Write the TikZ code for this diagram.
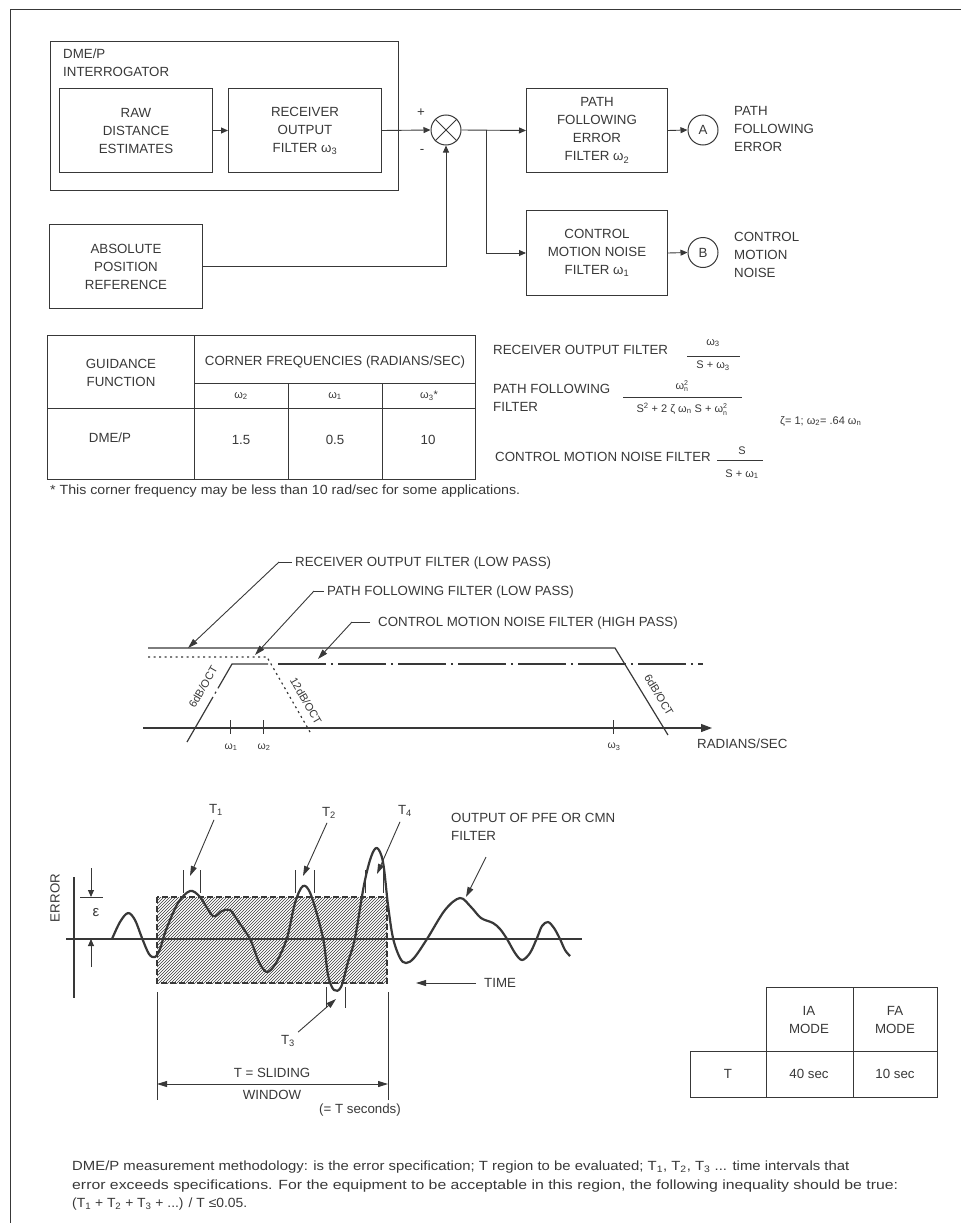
\documentclass[tikz,border=0pt]{standalone}
\usepackage{fontspec}
\setmainfont{Liberation Sans}
\usetikzlibrary{arrows.meta,patterns,calc}
\definecolor{ink}{gray}{0.22}
\newcommand{\sbs}[1]{\textsubscript{#1}}
\newcommand{\sps}[1]{\textsuperscript{#1}}
\newcommand{\tinyf}{\fontsize{7}{7}\selectfont}
\newcommand{\wsq}[1]{${\mbox{ω}}_{\mbox{\tinyf #1}}^{\mbox{\tinyf 2}}$}
\begin{document}
\begin{tikzpicture}[x=1pt,y=-1pt,
  every node/.style={font=\fontsize{13.3}{18}\selectfont, text=ink, inner sep=0pt},
  blk/.style={draw=ink, line width=1pt, align=center, anchor=north west},
  sig/.style={draw=ink, line width=0.9pt},
  arr/.style={sig, -{Triangle[length=7pt,width=6pt]}},
  ldr/.style={draw=ink, line width=0.9pt, -{Triangle[length=10pt,width=6pt]}},
  junc/.style={circle, draw=ink, line width=1pt, minimum size=30pt},
  thin/.style={draw=ink, line width=0.9pt},
  lbl/.style={align=left, anchor=west},
  small/.style={font=\fontsize{11}{13}\selectfont},
  tiny/.style={font=\fontsize{10.5}{12}\selectfont},
  curve/.style={draw=ink, line width=1.2pt},
]
\useasboundingbox (0,0) rectangle (961,1223);
\draw[ink, line width=1pt] (10,1223) -- (10,10) -- (961,10);

% ---------------- block diagram ----------------
\node[blk, minimum width=348pt, minimum height=149pt] (interr) at (50,41) {};
\node[lbl, anchor=north west] (interrlbl) at (63,49) {DME/P\\INTERROGATOR};
\node[blk, minimum width=153pt, minimum height=84pt] (raw) at (59,88) {RAW\\DISTANCE\\ESTIMATES};
\node[blk, minimum width=153pt, minimum height=84pt] (rof) at (228,88) {RECEIVER\\OUTPUT\\FILTER ω\sbs{3}};
\node[junc] (sum) at (446,130) {};
\draw[thin] (sum.north west) -- (sum.south east) (sum.north east) -- (sum.south west);
\node (plus) at (421,113) {+};
\node (minus) at (422,151) {-};
\node[blk, minimum width=153pt, minimum height=84pt] (abs) at (49,224) {ABSOLUTE\\POSITION\\REFERENCE};
\node[blk, minimum width=141pt, minimum height=84pt] (pfe) at (526,88) {PATH\\FOLLOWING\\ERROR\\FILTER ω\sbs{2}};
\node[blk, minimum width=141pt, minimum height=85pt] (cmn) at (526,210) {CONTROL\\MOTION NOISE\\FILTER ω\sbs{1}};
\node[junc] (A) at (703,130) {A};
\node[junc] (B) at (703,252.5) {B};
\node[lbl] (Alab) at (734,129) {PATH\\FOLLOWING\\ERROR};
\node[lbl] (Blab) at (734,255) {CONTROL\\MOTION\\NOISE};
\coordinate (br) at (486,130);
\draw[arr] (raw) -- (rof);
\draw[arr] (rof.east) -- (sum.west);
\draw[arr] (sum.east) -- (pfe.west);
\draw[arr] (br) |- (cmn.west);
\draw[arr] (abs.east) -| (sum.south);
\draw[arr] (pfe.east) -- (A.west);
\draw[arr] (cmn.east) -- (B.west);

% ---------------- table 1 ----------------
\draw[thin] (47,335) rectangle (475,479);
\draw[thin] (194,335) -- (194,479);
\draw[thin] (194,383) -- (475,383);
\draw[thin] (47,408) -- (475,408);
\draw[thin] (288,383) -- (288,479) (382,383) -- (382,479);
\node[align=center] (gf) at (121,373) {GUIDANCE\\FUNCTION};
\node (cf) at (335,362) {CORNER FREQUENCIES (RADIANS/SEC)};
\node[small] (w2h) at (241,396) {ω\sbs{2}};
\node[small] (w1h) at (335,396) {ω\sbs{1}};
\node[small] (w3h) at (429,396) {ω\sbs{3}*};
\node (dme) at (110,438) {DME/P};
\node (v1) at (241,440) {1.5};
\node (v2) at (335,440) {0.5};
\node (v3) at (428,440) {10};
\node[anchor=west] (fn) at (50,491) {\resizebox{470pt}{\height}{* This corner frequency may be less than 10 rad/sec for some applications.}};

% ---------------- formulas ----------------
\node[lbl] (f1) at (493,350) {RECEIVER OUTPUT FILTER};
\node[small] (f1n) at (713,343) {ω\sbs{3}};
\draw[thin] (687,356) -- (740,356);
\node[small] (f1d) at (713,366) {S + ω\sbs{3}};
\node[lbl] (f2) at (493,398) {PATH FOLLOWING\\FILTER};
\node[small] (f2n) at (682,386) {\wsq{n}};
\draw[thin] (623,397) -- (742,397);
\node[small] (f2d) at (682,409) {S\sps{2} + 2 ζ ω\sbs{n} S + \wsq{n}};
\node[lbl, small] (zeta) at (780,421) {ζ= 1; ω\sbs{2}= .64 ω\sbs{n}};
\node[lbl] (f3) at (495,457) {CONTROL MOTION NOISE FILTER};
\node[small] (f3n) at (742,451) {S};
\draw[thin] (717,460) -- (763,460);
\node[small] (f3d) at (742,474) {S + ω\sbs{1}};

% ---------------- bode plot ----------------
\node[lbl] (rofL) at (295,563) {RECEIVER OUTPUT FILTER (LOW PASS)};
\node[lbl] (pffL) at (327,592) {PATH FOLLOWING FILTER (LOW PASS)};
\node[lbl] (cmnL) at (378,623) {CONTROL MOTION NOISE FILTER (HIGH PASS)};
\coordinate (k1) at (279,562);
\coordinate (k2) at (314,591);
\coordinate (k3) at (352,622);
\coordinate (t1) at (188,648);
\coordinate (t2) at (255,655);
\coordinate (t3) at (318,659);
\draw[thin] (rofL.west) ++(-3,-1) -- (k1);
\draw[ldr] (k1) -- (t1);
\draw[thin] (pffL.west) ++(-3,-1) -- (k2);
\draw[ldr] (k2) -- (t2);
\draw[thin] (cmnL.west) ++(-8,-1) -- (k3);
\draw[ldr] (k3) -- (t3);
\draw[curve] (148,648) -- (615,648) -- (668,735);
\draw[curve, dash pattern=on 2pt off 3.5pt] (148,657) -- (267,657) -- (310,732);
\draw[curve, dash pattern=on 52pt off 4pt on 2pt off 4pt on 200pt off 1pt] (187,742) -- (232,664) -- (268,664);
\draw[curve, dash pattern=on 48pt off 5pt on 2pt off 5pt] (278,664) -- (703,664);
\coordinate (ax0) at (143,728);
\coordinate (ax1) at (712,728);
\draw[curve, -{Triangle[length=11pt,width=8pt]}] (ax0) -- (ax1);
\draw[thin] (230,720) -- (230,734) (263,720) -- (263,734) (613,720) -- (613,734);
\node[tiny] (o1) at (231,747) {ω\sbs{1}};
\node[tiny] (o2) at (264,747) {ω\sbs{2}};
\node[tiny] (o3) at (614,747) {ω\sbs{3}};
\node[lbl] (rad) at (697,744) {RADIANS/SEC};
\node[rotate=60, small] (s1) at (203,687) {6dB/OCT};
\node[rotate=-60, small] (s2) at (306,701) {12dB/OCT};
\node[rotate=-59, small] (s3) at (659,695) {6dB/OCT};

% ---------------- error waveform ----------------
\fill[pattern=north east lines, pattern color=ink] (157,897) rectangle (387,983);
\draw[ink, line width=1.1pt, dash pattern=on 6pt off 3pt] (157,897) rectangle (387,983);
\draw[curve] (66,939) -- (582,939);
\draw[curve] (74,877) -- (74,998);
\node[rotate=90] (err) at (55,898) {ERROR};
\draw[thin] (80,897) -- (103,897);
\coordinate (ea) at (91,868);
\coordinate (eb) at (91,897);
\coordinate (ec) at (91,967);
\coordinate (ed) at (91,939);
\draw[arr] (ea) -- (eb);
\draw[arr] (ec) -- (ed);
\node[font=\fontsize{15}{18}\selectfont] (eps) at (96,913) {ε};
\draw[ink, line width=2.2pt, line join=round] plot[smooth, tension=0.55] coordinates {
 (112,939) (120,922) (128,913) (135,920) (142,938) (149,954) (155,957) (160,949)
 (166,930) (178,903) (190,891) (200,897) (213,916) (222,911) (230,910) (238,921)
 (250,939) (259,962) (267,972) (276,963) (287,938) (295,903) (303,886) (311,895)
 (323,938) (328,975) (334,990) (341,987) (348,962) (355,938) (364,885) (371,857)
 (377,848) (383,862) (388,905) (393,938) (400,958) (406,963) (414,958) (427,939)
 (445,910) (460,898) (471,907) (481,918) (493,923) (500,929) (507,939) (515,953)
 (522,960) (530,953) (537,938) (542,926) (548,922) (554,928) (560,939) (565,950) (570,956)};
% T markers
\draw[thin] (183,870) -- (183,893) (200,870) -- (200,893);
\draw[thin] (295,870) -- (295,893) (314,870) -- (314,893);
\draw[thin] (365,870) -- (365,893) (383,870) -- (383,893);
\draw[thin] (326,987) -- (326,1008) (345,987) -- (345,1008);
\node (T1) at (216,810) {T\sbs{1}};
\node (T2) at (329,813) {T\sbs{2}};
\node (T4) at (405,811) {T\sbs{4}};
\node (T3) at (288,1041) {T\sbs{3}};
\coordinate (p1) at (190,876);
\coordinate (p2) at (303,876);
\coordinate (p4) at (377,874);
\coordinate (p3) at (336,999);
\draw[ldr] (T1.south) ++(-2,4) -- (p1);
\draw[ldr] (T2.south) ++(-2,4) -- (p2);
\draw[ldr] (T4.south) ++(-5,5) -- (p4);
\draw[ldr] (T3.north east) ++(3,-3) -- (p3);
\node[lbl, anchor=north west] (outL) at (451,813) {OUTPUT OF PFE OR CMN\\FILTER};
\coordinate (po) at (466,897);
\draw[ldr] (486,857) -- (po);
\node[lbl] (time) at (484,983) {TIME};
\coordinate (pt) at (416,983);
\draw[ldr] (time.west) ++(-8,0) -- (pt);
% sliding window
\draw[thin] (157,992) -- (157,1100);
\draw[thin] (388,992) -- (388,1100);
\coordinate (wl) at (157,1084);
\coordinate (wr) at (388,1084);
\draw[thin, {Triangle[length=10pt,width=6pt]}-{Triangle[length=10pt,width=6pt]}] (wl) -- (wr);
\node (ts) at (272,1073) {T = SLIDING};
\node (tw) at (272,1095) {WINDOW};
\node (tsec) at (360,1110) {(= T seconds)};

% ---------------- table 2 ----------------
\draw[thin] (766,1097) -- (766,987) -- (937,987) -- (937,1097) -- (690,1097) -- (690,1051) -- (937,1051);
\draw[thin] (853,987) -- (853,1097);
\node[align=center] (ia) at (809,1020) {IA\\MODE};
\node[align=center] (fa) at (895,1020) {FA\\MODE};
\node (tt) at (728,1074) {T};
\node (t40) at (809,1074) {40 sec};
\node (t10) at (895,1074) {10 sec};

% ---------------- caption ----------------
\node[anchor=base west] (c1) at (72,1170) {\resizebox{777pt}{\height}{DME/P measurement methodology: is the error specification; T region to be evaluated; T\sbs{1}, T\sbs{2}, T\sbs{3} ... time intervals that}};
\node[anchor=base west] (c2) at (72,1189) {\resizebox{826pt}{\height}{error exceeds specifications. For the equipment to be acceptable in this region, the following inequality should be true:}};
\node[anchor=base west] (c3) at (72,1207) {\resizebox{175pt}{\height}{(T\sbs{1} + T\sbs{2} + T\sbs{3} + ...) / T ≤0.05.}};
\end{tikzpicture}
\end{document}
